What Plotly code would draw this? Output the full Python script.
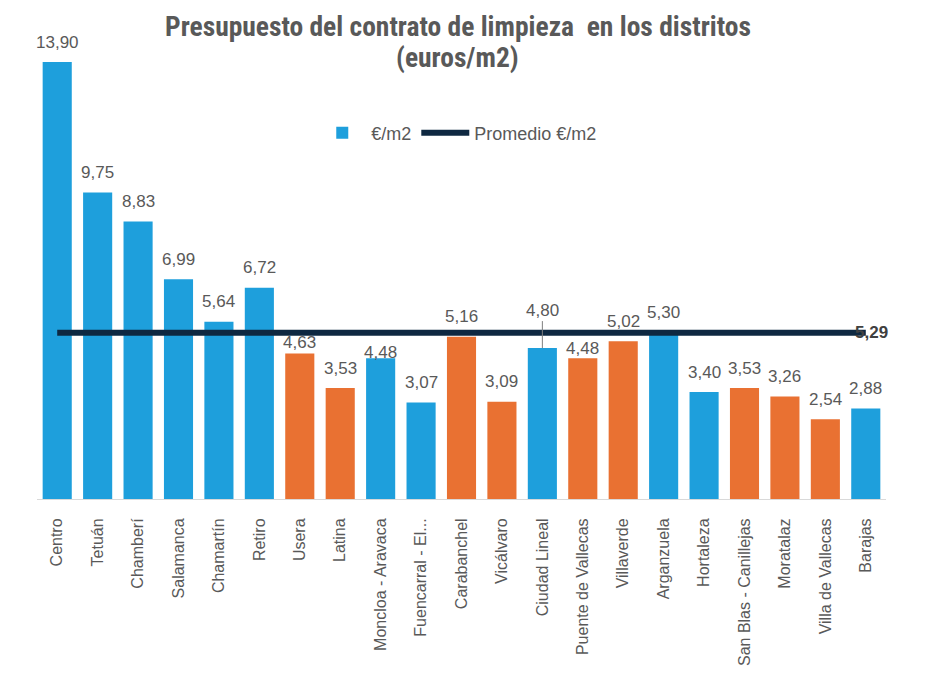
import plotly.graph_objects as go

districts = ["Centro", "Tetuán", "Chamberí", "Salamanca", "Chamartín", "Retiro", "Usera",
             "Latina", "Moncloa - Aravaca", "Fuencarral - El...", "Carabanchel", "Vicálvaro",
             "Ciudad Lineal", "Puente de Vallecas", "Villaverde", "Arganzuela", "Hortaleza",
             "San Blas - Canillejas", "Moratalaz", "Villa de Vallecas", "Barajas"]
eur_m2 = [13.90, 9.75, 8.83, 6.99, 5.64, 6.72, 4.63, 3.53, 4.48, 3.07, 5.16, 3.09,
          4.80, 4.48, 5.02, 5.30, 3.40, 3.53, 3.26, 2.54, 2.88]
group = ["B", "B", "B", "B", "B", "B", "O", "O", "B", "B", "O", "O",
         "B", "O", "O", "B", "B", "O", "O", "O", "B"]
promedio = 5.29

BLUE = "#1e9fdc"
ORANGE = "#e97132"
NAVY = "#0e2841"
GRAY = "#595959"
colors = [BLUE if g == "B" else ORANGE for g in group]

NARROW = "Liberation Sans Narrow, Arial Narrow, Roboto Condensed, Liberation Sans, sans-serif"
SANS = "Liberation Sans, Arial, sans-serif"

# label offsets (px above bar top), Excel nudged the labels that collide with the average line
label_shift = {"Usera": 11, "Moncloa - Aravaca": 6, "Puente de Vallecas": 10}
leader_labels = {"Ciudad Lineal": 36}


def fmt(v):
    return f"{v:.2f}".replace(".", ",")


fig = go.Figure()
fig.add_trace(go.Bar(
    x=districts, y=eur_m2, name="€/m2",
    marker=dict(color=colors, line=dict(width=0)),
))
fig.add_trace(go.Scatter(
    x=districts, y=[promedio] * len(districts), name="Promedio €/m2",
    mode="lines", line=dict(color=NAVY, width=6),
))

annotations = []
for d, v in zip(districts, eur_m2):
    if d in leader_labels:
        annotations.append(dict(
            x=d, y=v, xref="x", yref="y", text=fmt(v), showarrow=True,
            arrowhead=0, arrowwidth=1, arrowcolor="#7f7f7f", ax=0, ay=-leader_labels[d] - 2,
            yanchor="middle", font=dict(family=SANS, size=17, color=GRAY),
        ))
    else:
        annotations.append(dict(
            x=d, y=v, xref="x", yref="y", text=fmt(v), showarrow=False,
            yanchor="middle", yshift=label_shift.get(d, 20),
            font=dict(family=SANS, size=17, color=GRAY),
        ))
# average value label at the end of the line
annotations.append(dict(
    x=districts[-1], y=promedio, xref="x", yref="y", text=f"<b>{fmt(promedio)}</b>",
    showarrow=False, xshift=6, yanchor="middle",
    font=dict(family=SANS, size=17, color="#404040"),
))
# title (two lines)
annotations.append(dict(
    x=0.4956, y=1.0801, xref="paper", yref="paper", showarrow=False,
    text="<b>Presupuesto del contrato de limpieza  en los distritos</b>",
    xanchor="center", yanchor="middle",
    font=dict(family=NARROW, size=27.5, color=GRAY),
))
annotations.append(dict(
    x=0.4956, y=1.0114, xref="paper", yref="paper", showarrow=False,
    text="<b>(euros/m2)</b>", xanchor="center", yanchor="middle",
    font=dict(family=NARROW, size=27.5, color=GRAY),
))

fig.update_layout(
    width=933, height=699,
    margin=dict(l=29, r=55, t=54, b=208),
    paper_bgcolor="white", plot_bgcolor="white",
    separators=",.",
    bargap=0.28,
    showlegend=True,
    annotations=annotations,
    legend=dict(orientation="h", x=0.4956, xanchor="center", y=0.8375, yanchor="middle",
                font=dict(family=SANS, size=18, color=GRAY), bgcolor="rgba(0,0,0,0)",
                itemwidth=48),
    xaxis=dict(tickangle=-90, tickfont=dict(family=SANS, size=16, color=GRAY),
               showline=True, linecolor="#d9d9d9", linewidth=1, showgrid=False,
               ticks="", ticklabelstandoff=12,
               range=[-0.5, len(districts) - 0.5]),
    yaxis=dict(range=[0, 13.9], visible=False, showgrid=False),
)

fig.write_html("out.html")
